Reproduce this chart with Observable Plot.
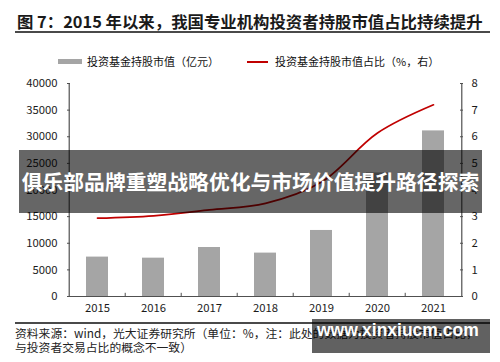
<!DOCTYPE html>
<html><head><meta charset="utf-8">
<script src="https://cdn.jsdelivr.net/npm/d3@7"></script>
<script src="https://cdn.jsdelivr.net/npm/@observablehq/plot@0.6"></script>
<style>
body{margin:0;background:#fff;}
#wrap{position:relative;width:500px;height:362px;overflow:hidden;background:#fff;font-family:"Noto Sans CJK SC","Noto Sans",sans-serif;color:#222;}
#title{position:absolute;left:17px;top:11px;font-size:16.4px;font-weight:bold;line-height:21px;white-space:nowrap;color:#1a1a1a;}
#titleRule{position:absolute;left:15px;top:31px;width:475px;height:2px;background:#4a4a4a;}
#legend{position:absolute;left:0;top:53px;width:500px;height:16px;font-size:11px;line-height:16px;color:#111;}
.lg{position:absolute;top:0;white-space:nowrap;}
.sw{position:absolute;}
#chart{position:absolute;left:0;top:70px;}
#footRule{position:absolute;left:15px;top:322px;width:475px;height:1.5px;background:#4a4a4a;}
#foot{position:absolute;left:15px;top:326px;font-size:11.8px;line-height:13.7px;white-space:nowrap;color:#222;}
#banner{position:absolute;left:19px;top:150px;width:463px;height:63px;background:rgba(0,0,0,0.6);color:#fff;font-weight:bold;font-size:20.8px;line-height:63px;text-align:center;white-space:nowrap;}
#wm{position:absolute;left:312px;top:319px;width:178px;height:34px;background:rgba(0,0,0,0.62);}
#wm span{position:absolute;left:5px;top:3px;color:#fff;font-family:"Liberation Sans",Arial,sans-serif;font-weight:bold;font-size:17.5px;line-height:17.5px;white-space:nowrap;}
</style></head><body>
<div id="wrap">
  <div id="title"></div>
  <div id="titleRule"></div>
  <div id="legend"></div>
  <div id="chart"></div>
  <div id="footRule"></div>
  <div id="foot"></div>
  <div id="banner"></div>
  <div id="wm"><span></span></div>
</div>
<script>
// ---- data ----
const years = ["2015","2016","2017","2018","2019","2020","2021"];
const fundValue = [7400, 7200, 9200, 8150, 12400, 23200, 31100];   // 亿元 (left axis)
const fundShare = [2.94, 3.03, 3.25, 3.5, 4.3, 6.14, 7.2];          // % (right axis)
const leftTicks = [0, 5000, 10000, 15000, 20000, 25000, 30000, 35000, 40000];
const rightTicks = [0, 1, 2, 3, 4, 5, 6, 7, 8];
const seriesNames = ["投资基金持股市值（亿元）", "投资基金持股市值占比（%，右）"];
const titleText = "图 7：2015 年以来，我国专业机构投资者持股市值占比持续提升";
const footLines = ["资料来源：wind，光大证券研究所（单位：%，注：此处的数据为投资者持股市值占比，", "与投资者交易占比的概念不一致）"];
const bannerText = "俱乐部品牌重塑战略优化与市场价值提升路径探索";
const watermarkText = "www.xinxiucm.com";

const data = years.map((y, i) => ({year: y, value: fundValue[i], share: fundShare[i]}));
const ratio = 40000 / 8;

// ---- text elements ----
document.getElementById("title").textContent = titleText;
document.getElementById("banner").textContent = bannerText;
document.querySelector("#wm span").textContent = watermarkText;
document.getElementById("foot").innerHTML = footLines.map(t => `<div>${t}</div>`).join("");
const lg = document.getElementById("legend");
lg.innerHTML =
  `<div class="sw" style="left:58px;top:6px;width:24px;height:5px;background:#a5a5a5"></div>` +
  `<div class="lg" style="left:87px">${seriesNames[0]}</div>` +
  `<div class="sw" style="left:247px;top:7.5px;width:21px;height:2px;background:#c00000"></div>` +
  `<div class="lg" style="left:275px">${seriesNames[1]}</div>`;

// ---- chart ----
const W = 500, H = 250, ML = 67, MR = 37, MT = 13, MB = 24;
const PW = W - ML - MR;
const step = PW / years.length;
const axisColor = "#505050";

const chart = Plot.plot({
  width: W, height: H,
  marginLeft: ML, marginRight: MR, marginTop: MT, marginBottom: MB,
  style: {fontFamily: '"Noto Sans CJK SC","Noto Sans",sans-serif', fontSize: "11.3px", color: "#1a1a1a", background: "transparent", overflow: "visible"},
  x: {domain: years, paddingInner: 0.6, paddingOuter: 0.3, label: null},
  y: {domain: [0, 40000], label: null},
  marks: [
    Plot.barY(data, {x: "year", y: "value", fill: "#a5a5a5"}),
    Plot.line(data, {x: "year", y: d => d.share * ratio, stroke: "#c00000", strokeWidth: 1.7, curve: "catmull-rom"}),
    Plot.ruleY([0], {stroke: axisColor, strokeWidth: 1.2}),
    Plot.ruleX([years[0]], {dx: -step / 2, y1: 0, y2: 40000, stroke: axisColor, strokeWidth: 1.2}),
    Plot.ruleX([years[years.length - 1]], {dx: step / 2, y1: 0, y2: 40000, stroke: axisColor, strokeWidth: 1.2}),
    Plot.ruleX(years.slice(1), {dx: -step / 2, y1: 0, y2: 600, stroke: axisColor}),
    Plot.tickY(leftTicks, {y: d => d, insetRight: PW - 3, stroke: axisColor}),
    Plot.tickY(rightTicks, {y: d => d * ratio, insetLeft: PW - 3, stroke: axisColor}),
    Plot.axisY({anchor: "left", ticks: leftTicks, tickFormat: d => String(d), tickSize: 0, tickPadding: 10, label: null}),
    Plot.axisY({anchor: "right", ticks: rightTicks.map(d => d * ratio), tickFormat: d => String(d / ratio), tickSize: 0, tickPadding: 8, label: null}),
    Plot.axisX({anchor: "bottom", tickSize: 0, tickPadding: 7, label: null})
  ]
});
document.getElementById("chart").appendChild(chart);
</script>
</body></html>
